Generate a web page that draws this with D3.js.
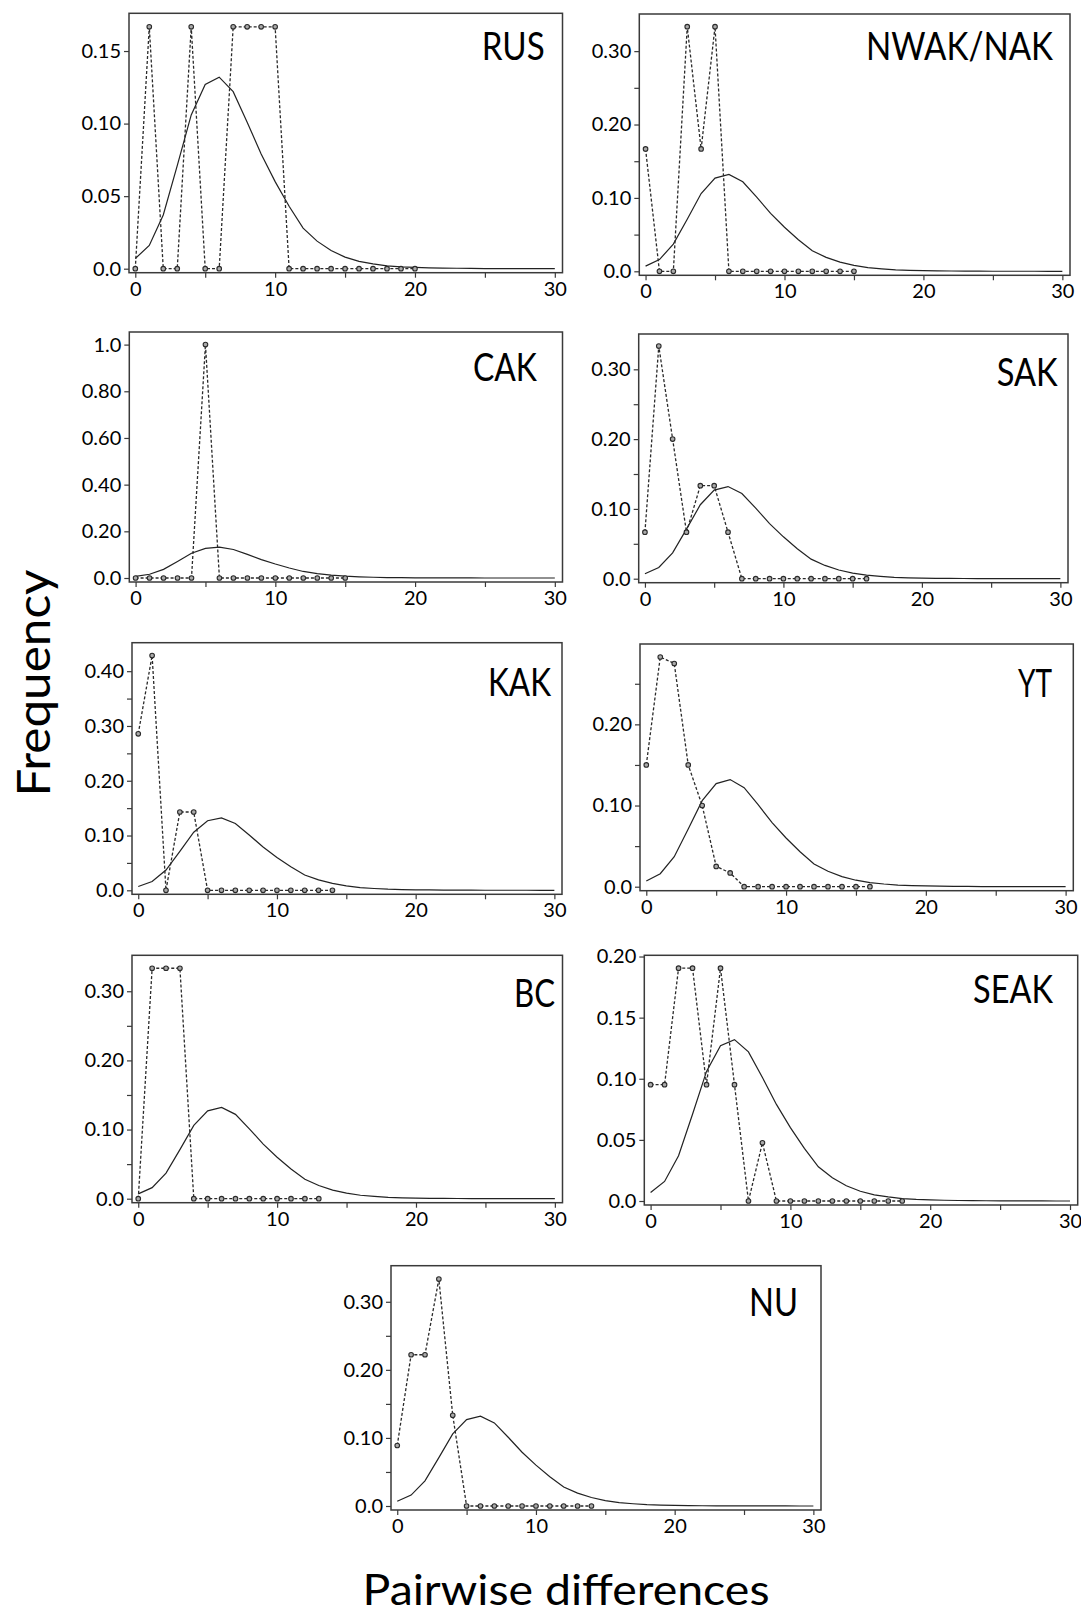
<!DOCTYPE html>
<html>
<head>
<meta charset="utf-8">
<title>Pairwise differences by region</title>
<script src="https://cdn.jsdelivr.net/npm/d3@7"></script>
<style>
  body { margin: 0; background: #fff; }
  svg { display: block; font-family: Lato, "Open Sans", sans-serif; }
  .frame { fill: none; stroke: #3a3a3a; stroke-width: 1.5; }
  .axis path { display: none; }
  .axis line { stroke: #3a3a3a; stroke-width: 1.2; }
  .axis text { font-size: 20px; fill: #000; font-family: Lato, sans-serif; }
  .expected { fill: none; stroke: #222; stroke-width: 1.2; }
  .observed { fill: none; stroke: #2a2a2a; stroke-width: 1.3; stroke-dasharray: 3,2; }
  .dot { fill: #aaa; stroke: #2a2a2a; stroke-width: 1.1; }
  .label { font-size: 38px; fill: #000; }
  .title { font-size: 46px; fill: #000; }
</style>
</head>
<body>
<svg id="chart" width="1081" height="1616"></svg>
<script>

// panel names, in drawing order
var regions = ["RUS", "NWAK/NAK", "CAK", "SAK", "KAK", "YT", "BC", "SEAK", "NU"];

// expected distribution (solid line), same in every panel, x = 0..30
var expected = [0.007, 0.016, 0.037, 0.071, 0.106, 0.127, 0.132, 0.122, 0.101, 0.079,
                0.060, 0.043, 0.028, 0.019, 0.0125, 0.008, 0.005, 0.0033, 0.002, 0.0013,
                0.0009, 0.0006, 0.0004, 0.0003, 0.0002, 0.0001, 0.0001, 0.0001, 0.0001, 0, 0];

// observed frequencies (dashed line with circles), x = 0..n-1
var obsRUS  = [0, 0.1667, 0, 0, 0.1667, 0, 0, 0.1667, 0.1667, 0.1667, 0.1667, 0, 0, 0, 0, 0, 0, 0, 0, 0, 0];
var obsNWAK = [0.1667, 0, 0, 0.3333, 0.1667, 0.3333, 0, 0, 0, 0, 0, 0, 0, 0, 0, 0];
var obsCAK  = [0, 0, 0, 0, 0, 1.0, 0, 0, 0, 0, 0, 0, 0, 0, 0, 0];
var obsSAK  = [0.0667, 0.3333, 0.2, 0.0667, 0.1333, 0.1333, 0.0667, 0, 0, 0, 0, 0, 0, 0, 0, 0, 0];
var obsKAK  = [0.2857, 0.4286, 0, 0.1429, 0.1429, 0, 0, 0, 0, 0, 0, 0, 0, 0, 0];
var obsYT   = [0.15, 0.283, 0.275, 0.15, 0.10, 0.025, 0.017, 0, 0, 0, 0, 0, 0, 0, 0, 0, 0];
var obsBC   = [0, 0.3333, 0.3333, 0.3333, 0, 0, 0, 0, 0, 0, 0, 0, 0, 0];
var obsSEAK = [0.0952, 0.0952, 0.1905, 0.1905, 0.0952, 0.1905, 0.0952, 0, 0.0476, 0, 0, 0, 0, 0, 0, 0, 0, 0, 0];
var obsNU   = [0.0889, 0.2222, 0.2222, 0.3333, 0.1333, 0, 0, 0, 0, 0, 0, 0, 0, 0, 0];

var observed = [obsRUS, obsNWAK, obsCAK, obsSAK, obsKAK, obsYT, obsBC, obsSEAK, obsNU];

// axis ticks
var xTicks = [0, 5, 10, 15, 20, 25, 30];
var xTickLabels = ["0", "", "10", "", "20", "", "30"];

var yTicksA = [0, 0.05, 0.10, 0.15];
var yLabelsA = ["0.0", "0.05", "0.10", "0.15"];
var yTicksB = [0, 0.05, 0.10, 0.15, 0.20, 0.25, 0.30];
var yLabelsB = ["0.0", "", "0.10", "", "0.20", "", "0.30"];
var yTicksC = [0, 0.2, 0.4, 0.6, 0.8, 1.0];
var yLabelsC = ["0.0", "0.20", "0.40", "0.60", "0.80", "1.0"];
var yTicksD = [0, 0.05, 0.10, 0.15, 0.20, 0.25, 0.30, 0.35, 0.40];
var yLabelsD = ["0.0", "", "0.10", "", "0.20", "", "0.30", "", "0.40"];
var yTicksE = [0, 0.05, 0.10, 0.15, 0.20, 0.25];
var yLabelsE = ["0.0", "", "0.10", "", "0.20", ""];
var yTicksF = [0, 0.05, 0.10, 0.15, 0.20];
var yLabelsF = ["0.0", "0.05", "0.10", "0.15", "0.20"];

var yTickSets  = [yTicksA, yTicksB, yTicksC, yTicksB, yTicksD, yTicksE, yTicksB, yTicksF, yTicksB];
var yLabelSets = [yLabelsA, yLabelsB, yLabelsC, yLabelsB, yLabelsD, yLabelsE, yLabelsB, yLabelsF, yLabelsB];

// panel frames and label placement (page pixels)
var layout = [
  { l: 129,   t: 13.3,   r: 562.5,  b: 272.7,  top: 0.176, lx: 481.7, ly: 60,     lw: 63 },
  { l: 639.3, t: 14,     r: 1070,   b: 275.3,  top: 0.3506, lx: 866,  ly: 60,     lw: 187 },
  { l: 129.3, t: 332,    r: 562.5,  b: 582,    top: 1.054, lx: 473,   ly: 380.7,  lw: 64 },
  { l: 638.7, t: 334,    r: 1068,   b: 582.7,  top: 0.3506, lx: 996.7, ly: 386,   lw: 61 },
  { l: 132,   t: 642.7,  r: 562,    b: 894.3,  top: 0.452, lx: 488,   ly: 695.7,  lw: 63 },
  { l: 640,   t: 644,    r: 1073.3, b: 890.7,  top: 0.299, lx: 1018,  ly: 696.7,  lw: 34 },
  { l: 132,   t: 955.3,  r: 562.5,  b: 1202.7, top: 0.352, lx: 514,   ly: 1006.7, lw: 41 },
  { l: 644.3, t: 955.3,  r: 1077.7, b: 1205,   top: 0.201, lx: 973,   ly: 1003,   lw: 80 },
  { l: 391,   t: 1265.7, r: 821,    b: 1510,   top: 0.353, lx: 749,   ly: 1316,   lw: 49 }
];

var svg = d3.select("#chart");

function drawPanel(i) {
    var p = layout[i];
    var w = p.r - p.l, h = p.b - p.t;

    var x = d3.scaleLinear().domain([-0.45, 30.55]).range([0, w]);
    var y = d3.scaleLinear().domain([0, p.top]).range([h - 4, 0]);

    var g = svg.append("g").attr("transform", "translate(" + p.l + "," + p.t + ")");

    var yt = yTickSets[i], yl = yLabelSets[i];
    g.append("g").attr("class", "axis")
        .call(d3.axisLeft(y).tickValues(yt).tickSize(5).tickPadding(3)
            .tickFormat(function(d, k) { return yl[k]; }));

    g.append("g").attr("class", "axis")
        .attr("transform", "translate(0," + h + ")")
        .call(d3.axisBottom(x).tickValues(xTicks).tickSize(5).tickPadding(4)
            .tickFormat(function(d, k) { return xTickLabels[k]; }));

    var line = d3.line()
        .x(function(d, k) { return x(k); })
        .y(function(d) { return y(d); });

    g.append("path").datum(expected).attr("class", "expected").attr("d", line);
    g.append("path").datum(observed[i]).attr("class", "observed").attr("d", line);

    g.selectAll(".dot").data(observed[i]).enter().append("circle")
        .attr("class", "dot")
        .attr("cx", function(d, k) { return x(k); })
        .attr("cy", function(d) { return y(d); })
        .attr("r", 2.3);

    g.append("rect").attr("class", "frame")
        .attr("x", 0).attr("y", 0).attr("width", w).attr("height", h);

    svg.append("text").attr("class", "label")
        .attr("x", p.lx).attr("y", p.ly)
        .attr("textLength", p.lw).attr("lengthAdjust", "spacingAndGlyphs")
        .text(regions[i]);
}

for (var i = 0; i < regions.length; i++) drawPanel(i);

svg.append("text").attr("class", "title")
    .attr("transform", "translate(50,683) rotate(-90)")
    .attr("text-anchor", "middle")
    .attr("textLength", 227).attr("lengthAdjust", "spacingAndGlyphs")
    .text("Frequency");

svg.append("text").attr("class", "title")
    .attr("x", 566).attr("y", 1605)
    .attr("text-anchor", "middle")
    .style("font-size", "42px")
    .attr("textLength", 407).attr("lengthAdjust", "spacingAndGlyphs")
    .text("Pairwise differences");

</script>
</body>
</html>
